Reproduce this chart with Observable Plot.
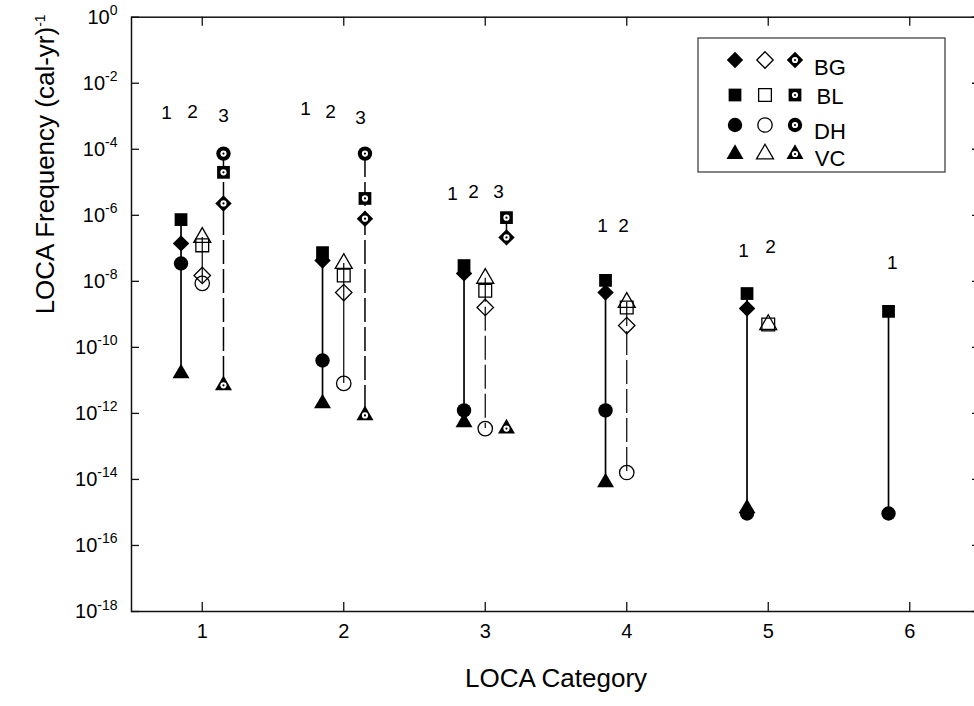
<!DOCTYPE html>
<html><head><meta charset="utf-8">
<script src="https://cdn.jsdelivr.net/npm/d3@7"></script>
<script src="https://cdn.jsdelivr.net/npm/@observablehq/plot@0.6"></script>
<style>
html,body{margin:0;padding:0;background:#fff;overflow:hidden}
#chart svg{display:block;overflow:visible}
</style></head><body><div id="chart"></div>
<script>
// ---- data ----
const categories = [1, 2, 3, 4, 5, 6];
const species = ["BG", "BL", "DH", "VC"];
const estimates = [1, 2, 3];

// LOCA frequency (per cal-yr), by category 1..6, for estimate 1 (filled), 2 (open), 3 (dotted)
const BG_1 = [1.41e-7, 4.27e-8, 1.74e-8, 4.57e-9, 1.51e-9, null];
const BL_1 = [7.4e-7, 7.4e-8, 3.0e-8, 1.07e-8, 4.27e-9, 1.23e-9];
const DH_1 = [3.47e-8, 4.0e-11, 1.23e-12, 1.23e-12, 9.3e-16, 9.3e-16];
const VC_1 = [1.62e-11, 2.0e-12, 5.4e-13, 8.1e-15, 1.32e-15, null];

const BG_2 = [1.51e-8, 4.57e-9, 1.62e-9, 4.57e-10, null, null];
const BL_2 = [1.23e-7, 1.51e-8, 5.2e-9, 1.62e-9, 4.9e-10, null];
const DH_2 = [8.7e-9, 8.1e-12, 3.47e-13, 1.62e-14, null, null];
const VC_2 = [2.14e-7, 3.47e-8, 1.23e-8, 2.29e-9, 4.9e-10, null];

const BG_3 = [2.29e-6, 7.9e-7, 2.14e-7, null, null, null];
const BL_3 = [2.0e-5, 3.24e-6, 8.5e-7, null, null, null];
const DH_3 = [7.4e-5, 7.4e-5, null, null, null, null];
const VC_3 = [7.1e-12, 8.7e-13, 3.47e-13, null, null, null];

// connecting lines: category, estimate, from species, to species, style
const lineCat  = [1, 1, 1, 2, 2, 2, 3, 3, 3, 4, 4, 5, 6];
const lineEst  = [1, 2, 3, 1, 2, 3, 1, 2, 3, 1, 2, 1, 1];
const lineFrom = ["BL","VC","DH","BL","VC","DH","BL","VC","BL","BL","VC","BL","BL"];
const lineTo   = ["VC","DH","VC","VC","DH","VC","VC","DH","BG","VC","DH","DH","DH"];
const lineDash = ["solid","solid","dashed","solid","solid","dashed","solid","dashed","solid","solid","dashed","solid","solid"];

// estimate-number annotations
const noteText = ["1","2","3","1","2","3","1","2","3","1","2","1","2","1"];
const noteX    = [0.748, 0.931, 1.151, 1.730, 1.907, 2.119, 2.769, 2.917, 3.094, 3.829, 3.978, 4.826, 5.017, 5.877];
const noteY    = [1.3e-3, 1.4e-3, 1.05e-3, 1.7e-3, 1.4e-3, 9.1e-4, 4.6e-6, 5.2e-6, 5.2e-6, 4.9e-7, 4.9e-7, 8.5e-8, 1.07e-7, 3.7e-8];

const yTickValues = [1e0, 1e-2, 1e-4, 1e-6, 1e-8, 1e-10, 1e-12, 1e-14, 1e-16, 1e-18];
const yTickLabels = ["10^0","10^-2","10^-4","10^-6","10^-8","10^-10","10^-12","10^-14","10^-16","10^-18"];
const xTickLabels = ["1","2","3","4","5","6"];

// ---- derived tables ----
const values = {
  BG: {1: BG_1, 2: BG_2, 3: BG_3},
  BL: {1: BL_1, 2: BL_2, 3: BL_3},
  DH: {1: DH_1, 2: DH_2, 3: DH_3},
  VC: {1: VC_1, 2: VC_2, 3: VC_3}
};
const offset = {1: -0.15, 2: 0, 3: 0.15};
const points = [];
for (const e of estimates) for (const s of species) categories.forEach((c, i) => {
  const v = values[s][e][i];
  if (v != null) points.push({cat: c, est: e, species: s, value: v, x: c + offset[e]});
});
const lines = lineCat.map((c, i) => {
  const e = lineEst[i];
  return {x: c + offset[e], y1: values[lineFrom[i]][e][c - 1], y2: values[lineTo[i]][e][c - 1],
          dash: lineDash[i], w: e === 1 ? 1.7 : e === 2 ? 1.2 : 1.5};
});
const notes = noteText.map((t, i) => ({t, x: noteX[i], y: noteY[i]}));
const yTicks = yTickValues.map((v, i) => ({v, label: yTickLabels[i]}));
const xTicks = categories.map((c, i) => ({c, label: xTickLabels[i]}));

const symbolOf = {BG: "diamond2", BL: "square", DH: "circle", VC: "triangle"};
const rOf = {BG: 7.4, BL: 7.2, DH: 7.2, VC: 6.3};
const drawOrder = ["BG", "BL", "VC", "DH"];
const innerR = 3.1, dotR = 1.1;

const W = 974, H = 706, ML = 131, MR = -6, MT = 16.7, MB = 95;
const FW = W - ML - MR, FH = H - MT - MB;

const marks = [];
// lines
marks.push(Plot.ruleX(lines.filter(d => d.dash === "solid"), {x: "x", y1: "y1", y2: "y2", stroke: "#000", strokeWidth: "w"}));
marks.push(Plot.ruleX(lines.filter(d => d.dash === "dashed"), {x: "x", y1: "y1", y2: "y2", stroke: "#000", strokeWidth: "w", strokeDasharray: "24,5"}));
// symbols
for (const s of drawOrder) {
  const sym = symbolOf[s], r = rOf[s];
  marks.push(Plot.dot(points.filter(d => d.est === 1 && d.species === s), {x: "x", y: "value", symbol: sym, r, fill: "#000", stroke: "none"}));
  marks.push(Plot.dot(points.filter(d => d.est === 2 && d.species === s), {x: "x", y: "value", symbol: sym, r, fill: "none", stroke: "#000", strokeWidth: 1.3}));
  const p3 = points.filter(d => d.est === 3 && d.species === s);
  marks.push(Plot.dot(p3, {x: "x", y: "value", symbol: sym, r, fill: "#000", stroke: "none"}));
  marks.push(Plot.dot(p3, {x: "x", y: "value", symbol: "circle", r: innerR, fill: "#fff", stroke: "none"}));
  marks.push(Plot.dot(p3, {x: "x", y: "value", symbol: "circle", r: dotR, fill: "#000", stroke: "none"}));
}
// frame and ticks
marks.push(Plot.frame({stroke: "#111", strokeWidth: 1.5}));
marks.push(Plot.tickY(yTicks, {y: "v", insetRight: FW - 8, stroke: "#111", strokeWidth: 1.3}));
marks.push(Plot.tickY(yTicks, {y: "v", insetLeft: FW - 8, stroke: "#111", strokeWidth: 1.3}));
marks.push(Plot.tickX(xTicks, {x: "c", insetTop: FH - 9, stroke: "#111", strokeWidth: 1.3}));
marks.push(Plot.tickX(xTicks, {x: "c", insetBottom: FH - 9, stroke: "#111", strokeWidth: 1.3}));
// tick labels
marks.push(Plot.text(yTicks, {y: "v", text: "label", frameAnchor: "left", textAnchor: "end", dx: -14, fontSize: 20}));
marks.push(Plot.text(xTicks, {x: "c", text: "label", frameAnchor: "bottom", dy: 26, fontSize: 20}));
// titles
marks.push(Plot.text(["LOCA Category"], {text: d => d, frameAnchor: "bottom", dy: 75, fontSize: 26}));
marks.push(Plot.text(["LOCA Frequency (cal-yr)^-1"], {text: d => d, frameAnchor: "left", dx: -86, rotate: -90, fontSize: 26}));
// estimate-number notes
marks.push(Plot.text(notes, {x: "x", y: "y", text: "t", fontSize: 19}));

const plot = Plot.plot({
  width: W, height: H,
  marginLeft: ML, marginRight: MR, marginTop: MT, marginBottom: MB,
  x: {domain: [0.5, 6.5], axis: null},
  y: {type: "log", domain: [1e-18, 1], axis: null},
  style: {fontFamily: "'Liberation Sans', Arial, Helvetica, sans-serif", color: "#000", background: "#fff", overflow: "visible"},
  marks
});

// superscripts
d3.select(plot).selectAll("text").each(function () {
  const t = this.textContent;
  const k = t.indexOf("^");
  if (k < 0) return;
  const base = t.slice(0, k), exp = t.slice(k + 1);
  const el = d3.select(this);
  const big = parseFloat(el.attr("font-size")) || parseFloat(getComputedStyle(this).fontSize) || 20;
  el.text(null);
  el.append("tspan").text(base);
  el.append("tspan").attr("dy", -big * 0.42).attr("font-size", Math.round(big * 0.7)).text(exp);
});

// legend
const svg = d3.select(plot);
const lg = svg.append("g").attr("font-family", "'Liberation Sans', Arial, sans-serif");
lg.append("rect").attr("x", 698).attr("y", 38).attr("width", 247).attr("height", 134)
  .attr("fill", "#fff").attr("stroke", "#333").attr("stroke-width", 1.2);
const rowY = [60, 95, 125, 154];
const textY = [67, 96, 131, 158];
const colX = [735, 765, 795];
const d3sym = {diamond2: d3.symbolDiamond2, square: d3.symbolSquare, circle: d3.symbolCircle, triangle: d3.symbolTriangle};
species.forEach((s, i) => {
  const size = Math.PI * rOf[s] * rOf[s];
  const path = d3.symbol(d3sym[symbolOf[s]], size)();
  const y = rowY[i];
  lg.append("path").attr("d", path).attr("transform", `translate(${colX[0]},${y})`).attr("fill", "#000");
  lg.append("path").attr("d", path).attr("transform", `translate(${colX[1]},${y})`).attr("fill", "none").attr("stroke", "#000").attr("stroke-width", 1.3);
  lg.append("path").attr("d", path).attr("transform", `translate(${colX[2]},${y})`).attr("fill", "#000");
  lg.append("circle").attr("cx", colX[2]).attr("cy", y).attr("r", innerR).attr("fill", "#fff");
  lg.append("circle").attr("cx", colX[2]).attr("cy", y).attr("r", dotR).attr("fill", "#000");
  lg.append("text").attr("x", 830).attr("y", textY[i]).attr("dy", "0.35em").attr("font-size", 22).attr("fill", "#000").text(s);
});

document.getElementById("chart").append(plot);
</script></body></html>
